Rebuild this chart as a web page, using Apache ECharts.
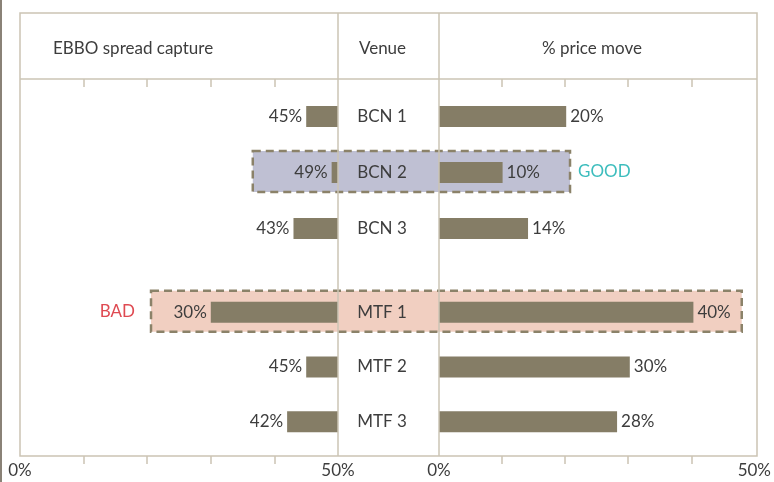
<!DOCTYPE html>
<html>
<head>
<meta charset="utf-8">
<script src="https://cdn.jsdelivr.net/npm/echarts@6/dist/echarts.min.js"></script>
<style>
html,body{margin:0;padding:0;background:#fff;}
#main{width:774px;height:482px;}
</style>
</head>
<body>
<div id="main"></div>
<script>
// ---- data ----
const venuesBCN = ['BCN 1', 'BCN 2', 'BCN 3'];
const venuesMTF = ['MTF 1', 'MTF 2', 'MTF 3'];
const spreadCaptureBCN = [45, 49, 43];
const spreadCaptureMTF = [30, 45, 42];
const priceMoveBCN = [20, 10, 14];
const priceMoveMTF = [40, 30, 28];
const axisMax = 50;
const tickValues = [10, 20, 30, 40];
const tickLabelValues = [0, 50];
const headerTitles = ['EBBO spread capture', 'Venue', '% price move'];
// highlight annotations: label, group, row index, left-panel start (%), right-panel end (%)
const highlightLabels = ['GOOD', 'BAD'];
const highlightGroups = ['BCN', 'MTF'];
const highlightRows = [1, 0];
const highlightLeftFrom = [36.6, 20.6];
const highlightRightTo = [20.6, 47.6];

// ---- styles ----
const FONT = 'Lato, "Open Sans", sans-serif';
const FS = 17;
const TXT = '#3d3d3d';
const BAR = '#857d66';
const FRAME = '#cbc4b4';

const chart = echarts.init(document.getElementById('main'), null, {renderer: 'canvas'});

const L = {left: 20, width: 318};
const R = {left: 439, width: 318};
const axisTop = 79, axisBottom = 26;

function barX() {
  return {type: 'value', min: 0, max: axisMax, show: false};
}
function catY(data, withLabels) {
  return {
    type: 'category', data: data, inverse: true, z: 5,
    position: 'right',
    axisLine: {show: false}, axisTick: {show: false}, splitLine: {show: false},
    axisLabel: withLabels ? {show: true, align: 'center', margin: 44, color: TXT, fontSize: FS, fontFamily: FONT} : {show: false}
  };
}
function bottomAxis(gi) {
  return {
    type: 'value', gridIndex: gi, min: 0, max: axisMax, interval: 10, position: 'bottom',
    axisLine: {show: false}, splitLine: {show: false},
    axisTick: {show: true, length: 8, customValues: tickValues, lineStyle: {color: FRAME, width: 1.5}},
    axisLabel: {show: true, customValues: tickLabelValues, formatter: '{value}%', margin: 6, color: TXT, fontSize: FS, fontFamily: FONT}
  };
}
function topAxis(gi) {
  return {
    type: 'value', gridIndex: gi, min: 0, max: axisMax, interval: 10, position: 'top',
    axisLine: {show: false}, splitLine: {show: false},
    axisTick: {show: true, inside: true, length: 8, customValues: tickValues, lineStyle: {color: FRAME, width: 1.5}},
    axisLabel: {show: false}
  };
}

const groupTopA = {top: 88.5, height: 168};
const groupTopB = {top: 285, height: 164};

const option = {
  animation: false,
  backgroundColor: '#ffffff',
  grid: [
    {left: L.left, width: L.width, top: axisTop, bottom: axisBottom},
    {left: R.left, width: R.width, top: axisTop, bottom: axisBottom},
    {left: L.left, width: L.width, top: groupTopA.top, height: groupTopA.height},
    {left: L.left, width: L.width, top: groupTopB.top, height: groupTopB.height},
    {left: R.left, width: R.width, top: groupTopA.top, height: groupTopA.height},
    {left: R.left, width: R.width, top: groupTopB.top, height: groupTopB.height}
  ],
  xAxis: [
    bottomAxis(0), bottomAxis(1),
    Object.assign(barX(), {gridIndex: 2}),
    Object.assign(barX(), {gridIndex: 3}),
    Object.assign(barX(), {gridIndex: 4}),
    Object.assign(barX(), {gridIndex: 5}),
    topAxis(0), topAxis(1)
  ],
  yAxis: [
    {type: 'value', gridIndex: 0, min: 0, max: 1, show: false},
    {type: 'value', gridIndex: 1, min: 0, max: 1, show: false},
    Object.assign(catY(venuesBCN, true), {gridIndex: 2}),
    Object.assign(catY(venuesMTF, true), {gridIndex: 3}),
    Object.assign(catY(venuesBCN, false), {gridIndex: 4}),
    Object.assign(catY(venuesMTF, false), {gridIndex: 5})
  ],
  series: []
};

function leftSeries(idx, values, stackName) {
  return [
    {type: 'bar', xAxisIndex: idx, yAxisIndex: idx, stack: stackName, barWidth: 21, silent: true,
     itemStyle: {color: 'rgba(0,0,0,0)'}, data: values},
    {type: 'bar', xAxisIndex: idx, yAxisIndex: idx, stack: stackName, barWidth: 21, silent: true,
     itemStyle: {color: BAR}, data: values.map(v => axisMax - v),
     label: {show: true, position: 'left', distance: 4, color: TXT, fontSize: FS, fontFamily: FONT,
             formatter: p => values[p.dataIndex] + '%'}}
  ];
}
function rightSeries(idx, values) {
  return {type: 'bar', xAxisIndex: idx, yAxisIndex: idx, barWidth: 21, silent: true,
          itemStyle: {color: BAR}, data: values,
          label: {show: true, position: 'right', distance: 4, color: TXT, fontSize: FS, fontFamily: FONT,
                  formatter: p => values[p.dataIndex] + '%'}};
}
option.series = [].concat(
  leftSeries(2, spreadCaptureBCN, 'lA'),
  leftSeries(3, spreadCaptureMTF, 'lB'),
  [rightSeries(4, priceMoveBCN), rightSeries(5, priceMoveMTF)]
);

chart.setOption(option);

// ---- frame + highlight boxes (positions from the chart's own scales) ----
const graphics = [];
const fTop = 13, fBottom = 456, fLeft = 20, fRight = 757;
const divL = L.left + L.width, divR = R.left;
graphics.push({type: 'line', z: 1, shape: {x1: 1, y1: 0, x2: 1, y2: 482}, style: {stroke: '#8a8277', lineWidth: 2}});
graphics.push({type: 'rect', z: 3, shape: {x: fLeft, y: fTop, width: fRight - fLeft, height: fBottom - fTop}, style: {fill: null, stroke: FRAME, lineWidth: 1.5}});
graphics.push({type: 'line', z: 3, shape: {x1: fLeft, y1: axisTop, x2: fRight, y2: axisTop}, style: {stroke: FRAME, lineWidth: 1.5}});
graphics.push({type: 'line', z: 3, shape: {x1: divL, y1: fTop, x2: divL, y2: fBottom}, style: {stroke: FRAME, lineWidth: 1.5}});
graphics.push({type: 'line', z: 3, shape: {x1: divR, y1: fTop, x2: divR, y2: fBottom}, style: {stroke: FRAME, lineWidth: 1.5}});

const headerX = [53, (divL + divR) / 2 - 6, (R.left + R.left + R.width) / 2 - 6];
const headerAlign = ['left', 'center', 'center'];
headerTitles.forEach((t, i) => {
  graphics.push({type: 'text', z: 4, x: headerX[i], y: 49,
    style: {text: t, fill: TXT, fontSize: FS, fontFamily: FONT, align: headerAlign[i], verticalAlign: 'middle'}});
});

const fills = ['#bfc0d3', '#f1cfc1'];
const tagColors = ['#3dbdbd', '#df4a52'];
highlightLabels.forEach((lab, i) => {
  const lg = highlightGroups[i] === 'BCN' ? 2 : 3;
  const rg = highlightGroups[i] === 'BCN' ? 4 : 5;
  const pL = chart.convertToPixel({gridIndex: lg}, [highlightLeftFrom[i], highlightRows[i]]);
  const pR = chart.convertToPixel({gridIndex: rg}, [highlightRightTo[i], highlightRows[i]]);
  const cy = pL[1] - 1;
  const h = 41;
  graphics.push({type: 'rect', z: 0, shape: {x: pL[0], y: cy - h / 2, width: pR[0] - pL[0], height: h},
    style: {fill: fills[i], stroke: '#8b8269', lineWidth: 2.5, lineDash: [8, 5]}});
  if (i === 0) {
    graphics.push({type: 'text', z: 4, x: pR[0] + 8, y: cy,
      style: {text: lab, fill: tagColors[i], fontSize: FS, fontFamily: FONT, align: 'left', verticalAlign: 'middle'}});
  } else {
    graphics.push({type: 'text', z: 4, x: pL[0] - 16, y: cy,
      style: {text: lab, fill: tagColors[i], fontSize: FS, fontFamily: FONT, align: 'right', verticalAlign: 'middle'}});
  }
});

chart.setOption({graphic: {elements: graphics}});
</script>
</body>
</html>
